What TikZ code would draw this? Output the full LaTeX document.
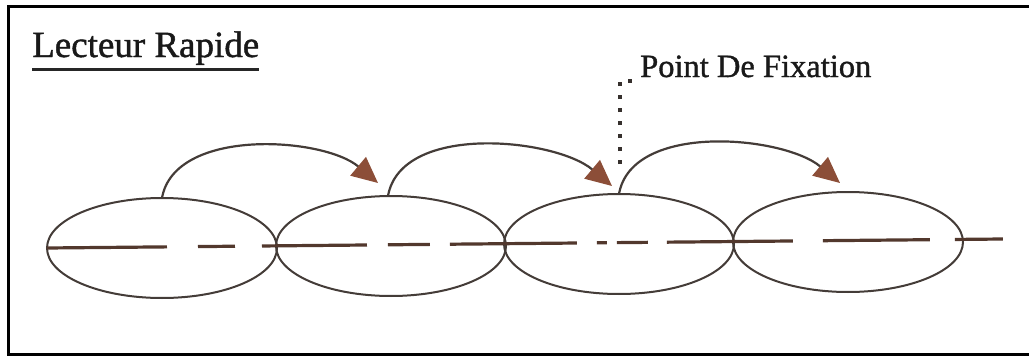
\documentclass[tikz,border=0pt]{standalone}
\usepackage{fontspec}
\setmainfont{Liberation Serif}
\newfontfamily\labelfont[FakeBold=1.2]{Liberation Serif}
\usetikzlibrary{shapes.geometric,arrows.meta}

\definecolor{inkgray}{RGB}{68,60,56}
\definecolor{inkbrown}{RGB}{82,56,45}
\definecolor{tipbrown}{RGB}{140,78,56}

\begin{document}
\begin{tikzpicture}[%
      x=1pt, y=-1pt,
      fixation/.style={draw=inkgray, line width=2pt, ellipse, inner sep=0pt,
        outer sep=0pt, minimum width=230pt, minimum height=100pt},
      jump/.style={draw=inkgray, line width=2.2pt,
        -{Triangle[length=26pt,width=24pt,fill=tipbrown,color=tipbrown]}},
      ]
      \useasboundingbox (0,0) rectangle (1029,356);
      \draw [color=black, line width=3.5pt] (8.5,6.5) rectangle (1045,354.5);

      % titre
      \node [anchor=base west, inner sep=0pt, text=black!90] (title) at (32,57)
        {\labelfont\fontsize{37}{42}\selectfont Lecteur Rapide};
      \draw [color=black!85, line width=3pt]
        ([yshift=-12pt]title.base west) -- ([yshift=-12pt]title.base east);

      % fixations
      \node [fixation] (e1) at (162,248) {};
      \node [fixation] (e2) at (391,246) {};
      \node [fixation] (e3) at (619,244) {};
      \node [fixation] (e4) at (848,242) {};

      % ligne de texte
      \coordinate (tail) at (1003,239);
      \draw [color=inkbrown, line width=3.2pt,
        dash pattern=on 120pt off 31pt on 37pt off 27pt on 105pt off 21pt
          on 42pt off 20pt on 127pt off 20pt on 10pt off 10pt on 31pt off 19pt
          on 126pt off 30pt on 107pt off 25pt on 48pt]
        (e1.west) -- (tail);

      % sauts
      \coordinate (tip1) at (378,183);
      \coordinate (tip2) at (612,186);
      \coordinate (tip3) at (840,183);
      \draw [jump] (e1.north) to [out=80, in=140, looseness=0.85] (tip1);
      \draw [jump] ([xshift=-3pt]e2.north) to [out=80, in=140, looseness=0.85] (tip2);
      \draw [jump] (e3.north) to [out=80, in=140, looseness=0.85] (tip3);

      % point de fixation
      \node [anchor=base west, inner sep=0pt, text=black!90] (fixlabel) at (640,77)
        {\labelfont\fontsize{32.5}{38}\selectfont Point De Fixation};
      \coordinate (fix) at (620,164);
      \draw [color=inkgray!80!black, line width=3.6pt,
        dash pattern=on 3.6pt off 9.4pt]
        (fix) |- ([xshift=-6pt,yshift=-4pt]fixlabel.base west);
\end{tikzpicture}
\end{document}
